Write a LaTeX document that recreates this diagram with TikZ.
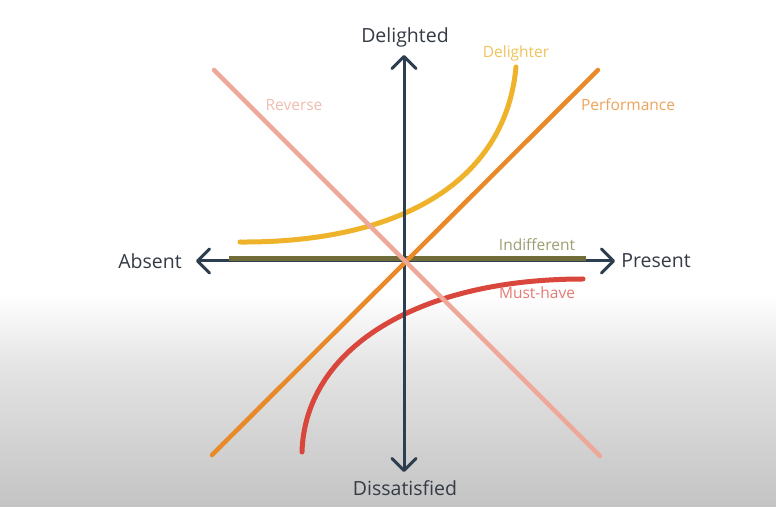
\documentclass[tikz,border=0pt]{standalone}
\usepackage{fontspec}
\setmainfont{Open Sans}
\usetikzlibrary{arrows.meta}
\definecolor{kaxis}{HTML}{2D3E50}
\definecolor{ktext}{HTML}{343B45}
\definecolor{kindiff}{HTML}{6F6C3A}
\definecolor{kindifftext}{HTML}{9E9E72}
\definecolor{kdelight}{HTML}{EEB32B}
\definecolor{kdelighttext}{HTML}{F0C45A}
\definecolor{kperf}{HTML}{E8892A}
\definecolor{kperftext}{HTML}{EFA35A}
\definecolor{kreverse}{HTML}{EFA898}
\definecolor{kreversetext}{HTML}{F2BDB0}
\definecolor{kmust}{HTML}{D9463B}
\definecolor{kmusttext}{HTML}{E57A73}
\definecolor{kbgmid}{HTML}{E4E4E4}
\definecolor{kbglow}{HTML}{C4C4C4}

\begin{document}
\begin{tikzpicture}[x=1pt, y=1pt,
    axis/.style={draw=kaxis, line width=3pt, {Straight Barb[length=12pt, width=24pt, line width=3pt, round]}-{Straight Barb[length=12pt, width=24pt, line width=3pt, round]}},
    axislabel/.style={text=ktext, font=\fontsize{19.5}{22}\selectfont, inner sep=1pt},
    curve/.style={line width=5pt, line cap=round},
    curvelabel/.style={font=\fontsize{15.5}{18}\selectfont, inner sep=1pt}]
    % Background
    \useasboundingbox (0,0) rectangle (776,506);
    \fill[white] (0,0) rectangle (776,506);
    \shade[top color=white, bottom color=kbgmid] (0,140.5) rectangle (776,211);
    \shade[top color=kbgmid, bottom color=kbglow] (0,0) rectangle (776,141);

    % Axis labels
    \node[axislabel] (delighted) at (405,469) {Delighted};
    \node[axislabel] (dissatisfied) at (405,18) {Dissatisfied};
    \node[axislabel] (absent) at (150,245) {Absent};
    \node[axislabel] (present) at (656,245) {Present};

    % Curve ends
    \coordinate (vtop) at (404,451);
    \coordinate (vbottom) at (404,34);
    \coordinate (hleft) at (196,245);
    \coordinate (hright) at (615,245);
    \coordinate (indiffstart) at (229,247.5);
    \coordinate (indiffend) at (586,247.5);
    \coordinate (delightstart) at (240,264);
    \coordinate (delightend) at (516,439);
    \coordinate (perfstart) at (212,51);
    \coordinate (perfend) at (598,436);
    \coordinate (revstart) at (214,436);
    \coordinate (revend) at (600,50);
    \coordinate (muststart) at (302,54);
    \coordinate (mustend) at (583,227);

    % Curves
    \draw[axis] (hleft) -- (hright);
    \draw[curve, kindiff, line cap=butt] (indiffstart) -- (indiffend);
    \draw[curve, kdelight] (delightstart) .. controls (395,263) and (505,321) .. (delightend);
    \draw[curve, kmust] (muststart) .. controls (305,156) and (415,227) .. (mustend);
    \draw[axis] (vbottom) -- (vtop);
    \draw[curve, kperf, line width=4.5pt] (perfstart) -- (perfend);
    \draw[curve, kreverse, line width=4.5pt] (revstart) -- (revend);

    % Curve labels
    \node[curvelabel, text=kdelighttext] (delighter) at (516,453) {Delighter};
    \node[curvelabel, text=kperftext] (performance) at (628,401) {Performance};
    \node[curvelabel, text=kreversetext] (reverse) at (294,401) {Reverse};
    \node[curvelabel, text=kindifftext] (indifferent) at (537,261) {Indifferent};
    \node[curvelabel, text=kmusttext] (musthave) at (537,213) {Must-have};
\end{tikzpicture}
\end{document}
